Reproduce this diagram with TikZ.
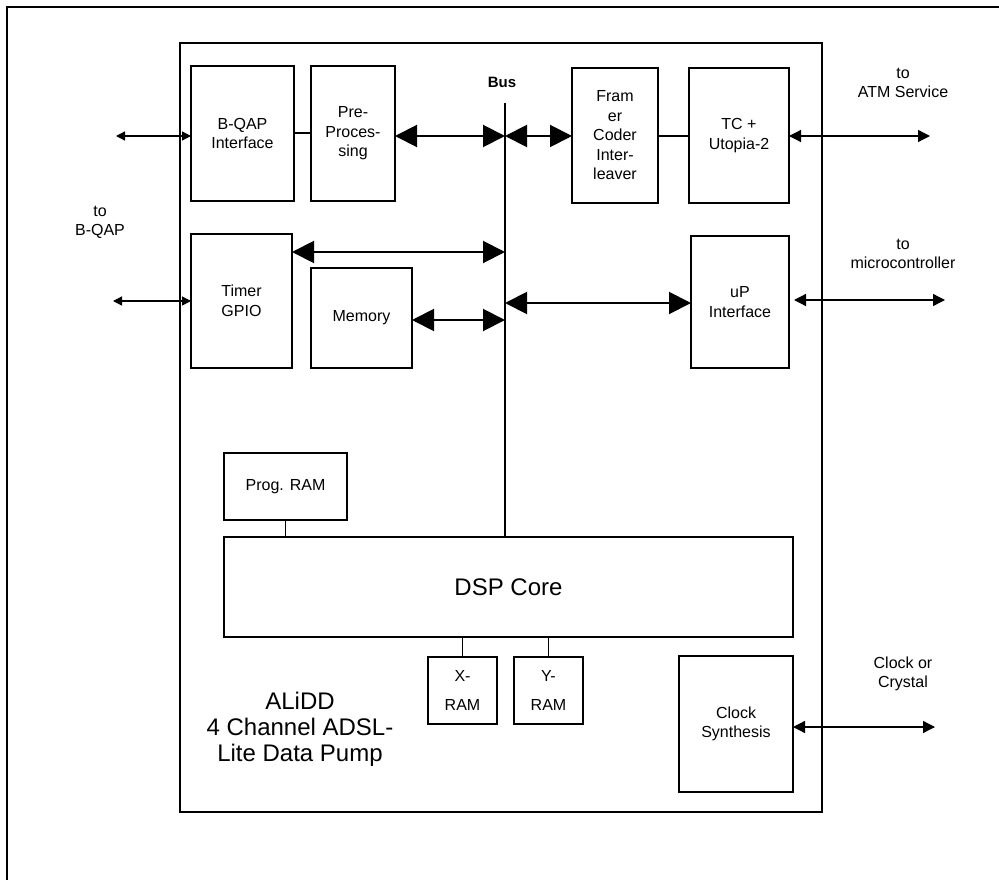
\documentclass[tikz,border=0pt]{standalone}
\usepackage{fontspec}
\setmainfont{Liberation Sans}
\usetikzlibrary{arrows.meta}
\begin{document}
\begin{tikzpicture}[x=1pt,y=-1pt,
  blk/.style={draw, line width=1.6pt, inner sep=0pt, outer sep=0pt, align=center, anchor=north west, font=\fontsize{16}{19.5}\selectfont},
  bigarr/.style={line width=2pt, {Triangle[length=22pt,width=22pt]}-{Triangle[length=22pt,width=22pt]}},
  smallarr/.style={line width=1.3pt, {Triangle[length=12pt,width=12pt]}-{Triangle[length=12pt,width=12pt]}},
  smallarrL/.style={line width=1.3pt, {Triangle[length=9pt,width=9pt]}-{Triangle[length=9pt,width=9pt]}},
  lbl/.style={align=center, font=\fontsize{16}{19}\selectfont, inner sep=0pt},
  conn/.style={line width=1.3pt}]
\useasboundingbox (0,0) rectangle (999,880);
\fill[white] (0,0) rectangle (999,880);
% outer frame (top and left edges only)
\draw[line width=1.3pt] (7,880) -- (7,7) -- (999,7);
% chip outline
\node[draw, line width=1.3pt, minimum width=642pt, minimum height=769pt, anchor=north west, inner sep=0pt, outer sep=0pt] (chip) at (180,43) {};
% blocks
\node[blk, minimum width=103pt, minimum height=135pt] (bqap) at (191,66) {B-QAP\\Interface};
\node[blk, minimum width=84pt, minimum height=135pt] (prep) at (311,66) {Pre-\\Proces-\\sing};
\node[blk, minimum width=86pt, minimum height=135pt] (framer) at (572,68) {Fram\\er\\Coder\\Inter-\\leaver};
\node[blk, minimum width=100pt, minimum height=135pt] (tc) at (689,68) {TC +\\Utopia-2};
\node[blk, minimum width=101pt, minimum height=134pt] (timer) at (191,234) {Timer\\GPIO};
\node[blk, minimum width=101pt, minimum height=100pt] (memory) at (311,268) {Memory};
\node[blk, minimum width=98pt, minimum height=132pt] (up) at (691,236) {uP\\Interface};
\node[blk, minimum width=123pt, minimum height=67pt] (program) at (224,453) {Prog. RAM};
\node[blk, minimum width=569pt, minimum height=100pt, font=\fontsize{24}{28}\selectfont] (dsp) at (224,537) {DSP Core};
\node[blk, minimum width=69pt, minimum height=67pt, font=\fontsize{16}{29}\selectfont] (xram) at (428,657) {X-\\RAM};
\node[blk, minimum width=69pt, minimum height=67pt, font=\fontsize{16}{29}\selectfont] (yram) at (514,657) {Y-\\RAM};
\node[blk, minimum width=114pt, minimum height=136pt] (clock) at (679,656) {Clock\\Synthesis};
% labels
\node[lbl] (tobqap) at (100,222) {to\\B-QAP};
\node[lbl] (toatm) at (903,83) {to\\ATM Service};
\node[lbl] (tomc) at (903,254) {to\\microcontroller};
\node[lbl] (toclk) at (903,674) {Clock or\\Crystal};
\node[inner sep=0pt, font=\bfseries\fontsize{15}{18}\selectfont] (buslbl) at (502,82) {Bus};
\node[align=center, inner sep=0pt, font=\fontsize{24}{26}\selectfont] (title) at (300,729) {ALiDD\\4 Channel ADSL-\\Lite Data Pump};
% bus
\coordinate (bustop) at (505,103);
\draw[line width=2pt] (bustop) -- (bustop |- dsp.north);
% row coordinates
\coordinate (ya) at (0,136);
\coordinate (yb) at (0,133);
\coordinate (yc) at (0,252);
\coordinate (yd) at (0,320);
\coordinate (ye) at (0,303);
% connectors
\coordinate (a1) at (116,136);
\draw[smallarrL] (a1) -- (bqap.west |- a1);
\draw[conn] (bqap.east |- yb) -- (prep.west |- yb);
\draw[bigarr] (prep.east |- ya) -- (bustop |- ya);
\draw[bigarr] (bustop |- ya) -- (framer.west |- ya);
\draw[conn] (framer.east |- ya) -- (tc.west |- ya);
\coordinate (a2) at (930,136);
\draw[smallarr] (tc.east |- a2) -- (a2);
\coordinate (a3) at (113,301);
\draw[smallarrL] (a3) -- (timer.west |- a3);
\draw[bigarr] (timer.east |- yc) -- (bustop |- yc);
\draw[bigarr] (memory.east |- yd) -- (bustop |- yd);
\draw[bigarr] (bustop |- ye) -- (up.west |- ye);
\coordinate (a4) at (945,300);
\draw[smallarr] ([xshift=5pt]up.east |- a4) -- (a4);
\coordinate (a5) at (935,727);
\draw[smallarr] (clock.east |- a5) -- (a5);
\draw[conn] (program.south) -- (program.south |- dsp.north);
\draw[conn] (xram.north) -- (xram.north |- dsp.south);
\draw[conn] (yram.north) -- (yram.north |- dsp.south);
\end{tikzpicture}
\end{document}
